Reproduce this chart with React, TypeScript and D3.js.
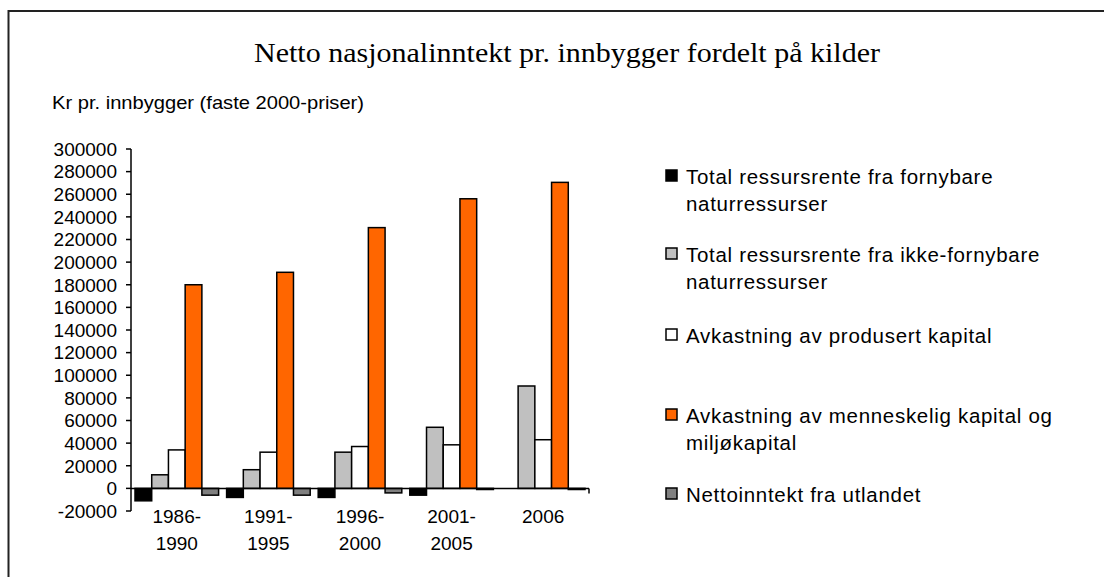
import * as d3 from "d3";

const categories = ["1986-1990", "1991-1995", "1996-2000", "2001-2005", "2006"];
const categoryLines = [["1986-", "1990"], ["1991-", "1995"], ["1996-", "2000"], ["2001-", "2005"], ["2006"]];

const seriesNames = [
  "Total ressursrente fra fornybare naturressurser",
  "Total ressursrente fra ikke-fornybare naturressurser",
  "Avkastning av produsert kapital",
  "Avkastning av menneskelig kapital og miljøkapital",
  "Nettoinntekt fra utlandet",
];
const legendLines = [
  ["Total ressursrente fra fornybare", "naturressurser"],
  ["Total ressursrente fra ikke-fornybare", "naturressurser"],
  ["Avkastning av produsert kapital"],
  ["Avkastning av menneskelig kapital og", "miljøkapital"],
  ["Nettoinntekt fra utlandet"],
];
const seriesColors = ["#000000", "#C0C0C0", "#FFFFFF", "#FF6600", "#808080"];

const fornybare = [-11000, -8000, -8000, -6000, 0];
const ikkeFornybare = [12000, 16500, 32000, 54000, 90500];
const produsert = [34000, 32000, 37000, 38500, 43000];
const menneskelig = [180000, 191000, 230500, 256000, 270500];
const utlandet = [-6000, -6000, -4000, -1000, -1000];
const seriesValues = [fornybare, ikkeFornybare, produsert, menneskelig, utlandet];

const yTicks = d3.range(-20000, 300001, 20000);

const W = 1104;
const H = 577;
const plot = { left: 131, right: 589, top: 149, bottom: 511 };

export default function App() {
  const x0 = d3.scaleBand<string>().domain(categories).range([plot.left, plot.right]);
  const x1 = d3
    .scaleBand<string>()
    .domain(seriesNames)
    .range([4, x0.bandwidth() - 4]);
  const y = d3.scaleLinear().domain([-20000, 300000]).range([plot.bottom, plot.top]);
  const zeroY = y(0);

  return (
    <svg
      width={W}
      height={H}
      style={{ position: "absolute", left: 0, top: 0, background: "#fff" }}
      fontFamily="Arial, 'Liberation Sans', sans-serif"
    >
      {/* frame */}
      <rect x={8.5} y={11} width={W + 10} height={H + 10} fill="none" stroke="#222" strokeWidth={2} />

      <text
        x={254}
        y={62}
        fontFamily="'Times New Roman', 'Liberation Serif', serif"
        fontSize={27}
        textLength={626}
        lengthAdjust="spacingAndGlyphs"
      >
        Netto nasjonalinntekt pr. innbygger fordelt på kilder
      </text>
      <text x={52} y={109} fontSize={18.5} textLength={312} lengthAdjust="spacingAndGlyphs">
        Kr pr. innbygger (faste 2000-priser)
      </text>

      {/* bars */}
      {seriesNames.map((s, si) =>
        categories.map((c, ci) => {
          const v = seriesValues[si][ci];
          const bx = (x0(c) ?? 0) + (x1(s) ?? 0);
          return (
            <rect
              key={s + c}
              x={bx}
              y={Math.min(y(v), zeroY)}
              width={x1.bandwidth()}
              height={Math.abs(y(v) - zeroY)}
              fill={seriesColors[si]}
              stroke="#000"
              strokeWidth={1.5}
            />
          );
        })
      )}

      {/* y axis */}
      <line x1={plot.left} x2={plot.left} y1={plot.top} y2={plot.bottom} stroke="#000" strokeWidth={1.5} />
      {yTicks.map((t) => (
        <g key={t}>
          <line x1={plot.left - 5} x2={plot.left} y1={y(t)} y2={y(t)} stroke="#000" strokeWidth={1.5} />
          <text x={117} y={y(t)} dy="0.36em" textAnchor="end" fontSize={19}>
            {t}
          </text>
        </g>
      ))}

      {/* x axis */}
      <line x1={plot.left} x2={plot.right} y1={zeroY} y2={zeroY} stroke="#000" strokeWidth={1.5} />
      <line x1={plot.right} x2={plot.right} y1={zeroY} y2={zeroY + 5} stroke="#000" strokeWidth={1.5} />
      {categories.map((c, ci) => (
        <text key={c} x={(x0(c) ?? 0) + x0.bandwidth() / 2} y={523} textAnchor="middle" fontSize={19}>
          {categoryLines[ci].map((l, li) => (
            <tspan key={li} x={(x0(c) ?? 0) + x0.bandwidth() / 2} dy={li === 0 ? 0 : 27}>
              {l}
            </tspan>
          ))}
        </text>
      ))}

      {/* legend */}
      {[184, 262, 343, 423, 502].map((by, i) => (
        <g key={i}>
          <rect x={666} y={by - 14} width={11} height={11} fill={seriesColors[i]} stroke="#000" strokeWidth={1.5} />
          <text x={686} y={by} fontSize={20.5} letterSpacing={0.7}>
            {legendLines[i].map((l, li) => (
              <tspan key={li} x={686} dy={li === 0 ? 0 : 26.5}>
                {l}
              </tspan>
            ))}
          </text>
        </g>
      ))}
    </svg>
  );
}
